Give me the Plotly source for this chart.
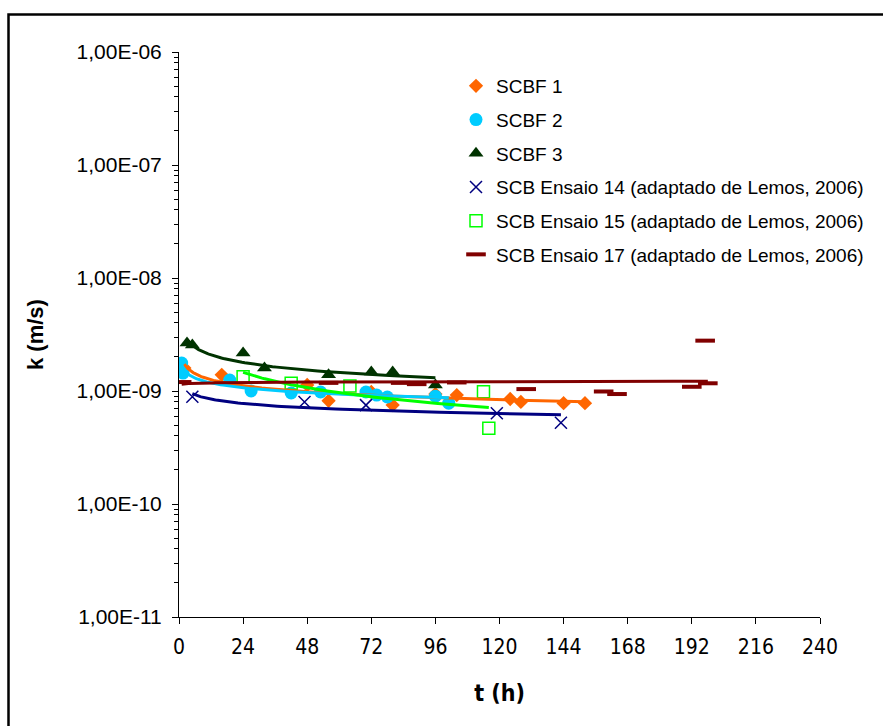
import numpy as np
import plotly.graph_objects as go

# ---------------- data ----------------
t_scbf1 = [2, 16, 48, 56, 72, 80, 96, 104, 124, 128, 144, 152]
k_scbf1 = [1.6e-9, 1.39e-9, 1.13e-9, 8.2e-10, 9.8e-10, 7.5e-10, 9.4e-10, 9.2e-10, 8.5e-10, 8.0e-10, 7.8e-10, 7.8e-10]

t_scbf2 = [1, 1.5, 19, 27, 42, 53, 70, 74, 78, 96, 101]
k_scbf2 = [1.77e-9, 1.44e-9, 1.25e-9, 1.0e-9, 9.6e-10, 9.8e-10, 9.8e-10, 9.2e-10, 8.85e-10, 9.0e-10, 7.8e-10]

t_scbf3 = [3, 5, 24, 32, 56, 72, 80, 96]
k_scbf3 = [2.66e-9, 2.55e-9, 2.17e-9, 1.6e-9, 1.39e-9, 1.47e-9, 1.47e-9, 1.13e-9]

t_e14 = [5, 47, 70, 119, 143]
k_e14 = [8.9e-10, 8.0e-10, 7.5e-10, 6.35e-10, 5.24e-10]

t_e15 = [24, 42, 64, 114, 116]
k_e15 = [1.34e-9, 1.17e-9, 1.11e-9, 9.86e-10, 4.67e-10]

t_e17 = [1, 56, 83, 89, 104, 130, 159, 164, 192, 197, 198]
k_e17 = [1.2e-9, 1.18e-9, 1.18e-9, 1.15e-9, 1.19e-9, 1.04e-9, 9.9e-10, 9.4e-10, 1.09e-9, 2.79e-9, 1.17e-9]

y_tickvals = [1e-11, 1e-10, 1e-9, 1e-8, 1e-7, 1e-6]
y_ticktext = ["1,00E-11", "1,00E-10", "1,00E-09", "1,00E-08", "1,00E-07", "1,00E-06"]
x_tickvals = [0, 24, 48, 72, 96, 120, 144, 168, 192, 216, 240]

series = [
    ("SCBF 1", t_scbf1, k_scbf1, dict(symbol="diamond", size=11, color="#FF6600"), "#FF6600"),
    ("SCBF 2", t_scbf2, k_scbf2, dict(symbol="circle", size=13, color="#00CCFF"), "#00CCFF"),
    ("SCBF 3", t_scbf3, k_scbf3, dict(symbol="triangle-up", size=13, color="#003300"), "#003300"),
    ("SCB Ensaio 14 (adaptado de Lemos, 2006)", t_e14, k_e14,
     dict(symbol="x-thin", size=12, color="#000080", line=dict(color="#000080", width=1.5)), "#000080"),
    ("SCB Ensaio 15 (adaptado de Lemos, 2006)", t_e15, k_e15,
     dict(symbol="square-open", size=12, color="#00FF00", line=dict(color="#00FF00", width=1.5)), "#00FF00"),
    ("SCB Ensaio 17 (adaptado de Lemos, 2006)", t_e17, k_e17,
     dict(symbol="line-ew", size=14, color="#800000", line=dict(color="#800000", width=4)), "#800000"),
]

fig = go.Figure()
for i, (name, t, k, mk, col) in enumerate(series):
    fig.add_trace(go.Scatter(x=t, y=k, mode="markers", name=name, marker=mk,
                             legendgroup=f"g{i}", showlegend=True))

# power trendlines (Excel style) fitted from the data
for i, (name, t, k, mk, col) in enumerate(series):
    lt, lk = np.log(np.array(t, float)), np.log(np.array(k, float))
    b, a = np.polyfit(lt, lk, 1)
    tt = np.geomspace(min(t), max(t), 80)
    fig.add_trace(go.Scatter(x=tt, y=np.exp(a) * tt ** b, mode="lines",
                             line=dict(color=col, width=3), showlegend=False,
                             hoverinfo="skip"))

W, H = 883, 726
L, R, T, B = 179, 63, 52, 109
pw, ph = W - L - R, H - T - B

def px(x):
    return (x - L) / pw

def py(y):
    return (H - B - y) / ph

fig.update_layout(
    width=W, height=H,
    margin=dict(l=L, r=R, t=T, b=B),
    paper_bgcolor="white", plot_bgcolor="white",
    font=dict(family="Liberation Sans, Arial, sans-serif", color="black", size=19),
    showlegend=True,
    legend=dict(x=px(456), y=py(67), xanchor="left", yanchor="top",
                bgcolor="rgba(0,0,0,0)", font=dict(size=19), tracegroupgap=6,
                itemwidth=30),
    xaxis=dict(range=[0, 240], tickmode="array", tickvals=x_tickvals,
               ticks="outside", ticklen=6, tickcolor="black", showline=True,
               linecolor="black", linewidth=1, showgrid=False, zeroline=False,
               ticklabelstandoff=5,
               tickfont=dict(family="Liberation Sans Narrow, Arial Narrow, DejaVu Sans Condensed, sans-serif", size=21),
               title=dict(text="<b>t (h)</b>", standoff=26,
                          font=dict(family="Liberation Sans Narrow, Arial Narrow, DejaVu Sans Condensed, sans-serif", size=23))),
    yaxis=dict(type="log", range=[-11, -6], tickmode="array", tickvals=y_tickvals,
               ticktext=y_ticktext, ticks="outside", ticklen=6, tickcolor="black",
               showline=True, linecolor="black", linewidth=1, showgrid=False,
               zeroline=False, ticklabelstandoff=6,
               tickfont=dict(family="Liberation Sans, Arial, sans-serif", size=21),
               minor=dict(ticks="outside", ticklen=4, tickcolor="black", dtick="D1", showgrid=False),
               title=dict(text="<b>k (m/s)</b>", standoff=26,
                          font=dict(family="Liberation Sans, Arial, sans-serif", size=22))),
    shapes=[dict(type="rect", xref="paper", yref="paper",
                 x0=px(8.5), x1=px(900), y0=py(740), y1=py(14.5),
                 line=dict(color="black", width=2.5), fillcolor="rgba(0,0,0,0)",
                 layer="below")],
)

fig.write_html("out.html")
